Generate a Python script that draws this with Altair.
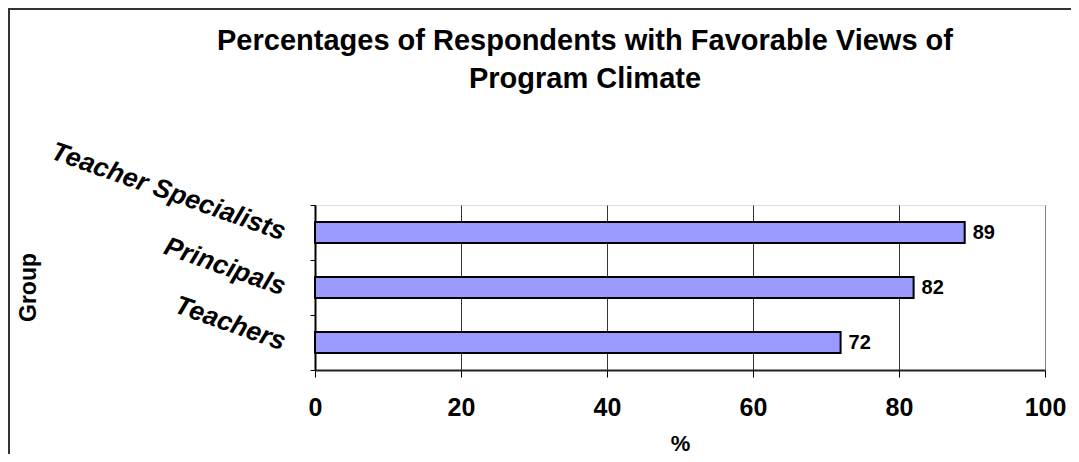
import altair as alt
import pandas as pd

groups = ["Teacher Specialists", "Principals", "Teachers"]
values = [89, 82, 72]
x_ticks = [0, 20, 40, 60, 80, 100]

df = pd.DataFrame({"Group": groups, "Pct": values})
FONT = "Liberation Sans"

y_enc = alt.Y(
    "Group:N",
    sort=groups,
    scale=alt.Scale(paddingInner=0, paddingOuter=0),
    axis=alt.Axis(
        title="Group",
        titleFontSize=23,
        titleFont=FONT,
        titleFontWeight="bold",
        titleColor="black",
        titleX=-287,
        titleY=82,
        titleAngle=270,
        titleBaseline="middle",
        titleAlign="center",
        labelFont=FONT,
        labelFontSize=26.5,
        labelFontWeight="bold",
        labelFontStyle="italic",
        labelColor="black",
        labelAngle=19.5,
        labelAlign="right",
        labelBaseline="middle",
        labelPadding=26,
        labelLimit=0,
        tickBand="extent",
        tickColor="black",
        tickSize=5,
        tickWidth=1,
        domainColor="black",
        domainWidth=2,
        grid=False,
    ),
)

x_enc = alt.X(
    "Pct:Q",
    scale=alt.Scale(domain=[0, 100], nice=False),
    axis=alt.Axis(
        title="%",
        values=x_ticks,
        titleFontSize=22,
        titleFont=FONT,
        titleFontWeight="bold",
        titleColor="black",
        titlePadding=13,
        labelFont=FONT,
        labelFontSize=25,
        labelFontWeight="bold",
        labelColor="black",
        labelPadding=18,
        labelFlush=False,
        labelOverlap=False,
        tickColor="black",
        tickSize=7,
        tickWidth=1,
        domainColor="#222222",
        domainWidth=2,
        grid=True,
        gridColor={"condition": {"test": "datum.value === 100", "value": "#808080"}, "value": "#333333"},
        gridWidth=1,
    ),
)

bars = alt.Chart(df).mark_bar(
    height=alt.RelativeBandSize(0.38),
    color="#9999FF",
    stroke="black",
    strokeWidth=2,
).encode(x=x_enc, y=y_enc)

labels = alt.Chart(df).mark_text(
    align="left", baseline="middle", dx=8, font=FONT, fontSize=20, fontWeight="bold", color="black"
).encode(x="Pct:Q", y=alt.Y("Group:N", sort=groups), text="Pct:Q")

frame_left = alt.Chart(df).mark_rule(color="#333333", strokeWidth=2).encode(
    x=alt.value(-306), y=alt.value(-196), y2=alt.value(300)
)
frame_top = alt.Chart(df).mark_rule(color="#333333", strokeWidth=2).encode(
    x=alt.value(-307), x2=alt.value(800), y=alt.value(-196)
)

chart = alt.layer(bars, labels, frame_left, frame_top).properties(
    width=730,
    height=165,
    autosize=alt.AutoSizeParams(type="none"),
    padding={"left": 307, "top": 197, "right": 26, "bottom": 84},
    title=alt.TitleParams(
        text=["Percentages of Respondents with Favorable Views of", "Program Climate"],
        font=FONT,
        fontSize=29,
        fontWeight="bold",
        color="black",
        anchor="middle",
        baseline="alphabetic",
        dx=-95,
        dy=109,
        offset=0,
        lineHeight=38,
    ),
).configure_view(stroke="#808080", strokeWidth=2).configure(background="white")

chart.save("out.html", embed_options={"renderer": "svg", "actions": False})
